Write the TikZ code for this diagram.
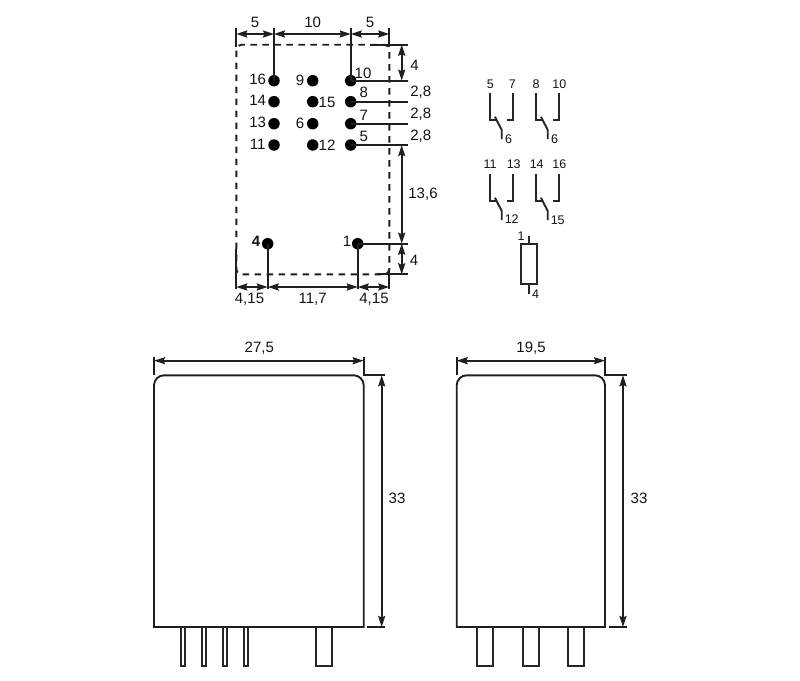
\documentclass[tikz,border=0pt]{standalone}
\usepackage{fontspec}
\setmainfont{Liberation Sans}
\usetikzlibrary{arrows.meta}
\tikzset{
  ln/.style={line width=1.9pt,draw=black!88},
  thin ln/.style={line width=1.9pt,draw=black!85},
  pin ln/.style={line width=1.7pt,draw=black!85},
  dash ln/.style={line width=1.9pt,draw=black!88,dash pattern=on 6.5pt off 5.5pt},
  dim/.style={line width=1.9pt,draw=black!88,{Stealth[length=11pt,width=7pt,inset=1.5pt]}-{Stealth[length=11pt,width=7pt,inset=1.5pt]}},
  lab/.style={inner sep=0pt,font=\fontsize{15}{15}\selectfont,text=black!92},
  slab/.style={inner sep=0pt,font=\fontsize{12.5}{12.5}\selectfont,text=black!92},
  pindot/.style={circle,fill=black,inner sep=0pt,minimum size=11.5pt}
}
\begin{document}
\begin{tikzpicture}[x=1pt,y=-1pt]
\useasboundingbox (0,0) rectangle (800,680);
\fill[white] (0,0) rectangle (800,680);
% socket outline
\draw[dash ln,rounded corners=5pt] (236.3,249) -- (236.3,44.7) -- (389.3,44.7) -- (389.3,274.3) -- (236.3,274.3) -- (236.3,249);
% dots
\foreach \n/\x/\y in {a/274/80.7,b/274/101.7,c/274/123.7,d/274/145,e/312.7/80.7,f/312.7/101.7,g/312.7/123.7,h/312.7/145,i/350.7/80.7,j/350.7/101.7,k/350.7/123.7,l/350.7/145,m/267.7/243.7,n/357.7/243.7}
  \node[pindot] (p\n) at (\x,\y) {};
% extension lines
\draw[ln] (236.3,28) -- (236.3,47);
\draw[ln] (274,28) -- (pa.center);
\draw[ln] (350.7,28) -- (pi.center);
\draw[ln] (389.3,28) -- (389.3,47);
\draw[ln] (370,44.7) -- (408,44.7);
\draw[ln] (pi.center) -- (408,80.7);
\draw[ln] (pj.center) -- (408,101.7);
\draw[ln] (pk.center) -- (408,123.7);
\draw[ln] (pl.center) -- (408,145);
\draw[ln] (pn.center) -- (408,243.7);
\draw[ln] (377,274.3) -- (408,274.3);
\draw[ln] (236.3,249) -- (236.3,289);
\draw[ln] (389.3,270) -- (389.3,289);
\draw[ln] (pm.center) -- (267.7,289);
\draw[ln] (pn.center) -- (357.7,289);
% dimensions
\draw[dim] (236.3,34) -- (274,34);
\draw[dim] (274,34) -- (350.7,34);
\draw[dim] (350.7,34) -- (389.3,34);
\draw[dim] (401.7,44.7) -- (401.7,80.7);
\draw[dim] (401.7,145) -- (401.7,243.7);
\draw[dim] (401.7,243.7) -- (401.7,274.3);
\draw[dim] (236.3,287) -- (267.7,287);
\draw[dim] (267.7,287) -- (357.7,287);
\draw[dim] (357.7,287) -- (389.3,287);
% dimension labels
\node[lab] (t1) at (255,22) {5};
\node[lab] (t2) at (312.7,22) {10};
\node[lab] (t3) at (370,22) {5};
\node[lab] (t4) at (414.5,65) {4};
\node[lab] (t5) at (420.7,92) {2,8};
\node[lab] (t6) at (420.7,114) {2,8};
\node[lab] (t7) at (420.7,136) {2,8};
\node[lab] (t8) at (423,194) {13,6};
\node[lab] (t9) at (414,260) {4};
\node[lab] (t10) at (249.5,299) {4,15};
\node[lab] (t11) at (312.7,299) {11,7};
\node[lab] (t12) at (374,299) {4,15};
% pin labels
\foreach \n/\t/\x/\y in {a/16/257.7/79.7,b/14/257.7/100.7,c/13/257.7/122.7,d/11/257.7/144,e/9/300/80,f/15/327/102,g/6/300/123.5,h/12/327/145,i/10/363/73,j/8/363.7/92,k/7/363.7/115,l/5/363.7/136,n/1/347/241}
  \node[lab] (q\n) at (\x,\y) {\t};
\node[lab,font=\fontsize{15}{15}\bfseries] (qm) at (256,241) {4};
% contacts
\foreach \o/\dx/\dy in {a/0/0,b/46/0,c/0/81,d/46/81}{
  \begin{scope}[shift={(\dx,\dy)}]
    \draw[thin ln,line join=miter] (490,93.3) -- (490,120) -- (496,120);
    \draw[thin ln] (495,116.7) -- (501.7,130) -- (501.7,139);
    \draw[thin ln] (513.3,93.3) -- (513.3,120) -- (507.3,120);
  \end{scope}
}
\foreach \n/\t/\x/\y in {a/5/490.3/84,b/7/512.3/84,c/8/536/84,d/10/559.3/84,e/6/508.7/139.5,f/6/554.7/139.5,g/11/490/164.3,h/13/513.7/164.3,i/14/536.7/164.3,j/16/559.3/164.3,k/12/511.7/219.5,l/15/557.7/219.8,m/1/521/235.7,n/4/535.7/293.7}
  \node[slab] (s\n) at (\x,\y) {\t};
% coil
\draw[thin ln] (521,244) rectangle (536.7,284.3);
\draw[thin ln] (529,235.7) -- (529,244);
\draw[thin ln] (529,284.3) -- (529,293.7);
% front view
\draw[ln] (154,627) [rounded corners=10pt] -- (154,375.3) -- (363.7,375.3) [sharp corners] -- (363.7,627) -- cycle;
\foreach \a/\b in {181.3/185.3,202.3/206.3,223.3/227.3,244.3/248.3,315.7/331.7}
  \draw[pin ln] (\a,627) -- (\a,665.7) -- (\b,665.7) -- (\b,627);
\draw[ln] (154,356.7) -- (154,375.3);
\draw[ln] (363.7,356.7) -- (363.7,375.3) -- (385,375.3);
\draw[ln] (367,627) -- (385,627);
\draw[dim] (154,360.7) -- (363.7,360.7);
\draw[dim] (381.7,375.3) -- (381.7,627);
\node[lab] (u1) at (259.3,348) {27,5};
\node[lab] (u2) at (397,498) {33};
% side view
\draw[ln] (456.7,627) [rounded corners=10pt] -- (456.7,375.3) -- (605,375.3) [sharp corners] -- (605,627) -- cycle;
\foreach \a/\b in {477/493,522.7/538.7,568.3/584.3}
  \draw[pin ln] (\a,627) -- (\a,665.7) -- (\b,665.7) -- (\b,627);
\draw[ln] (456.7,356.7) -- (456.7,375.3);
\draw[ln] (605,356.7) -- (605,375.3) -- (626.7,375.3);
\draw[ln] (609,627) -- (626.7,627);
\draw[dim] (456.7,360.7) -- (605,360.7);
\draw[dim] (623,375.3) -- (623,627);
\node[lab] (v1) at (531,348) {19,5};
\node[lab] (v2) at (639,498) {33};
\end{tikzpicture}
\end{document}
